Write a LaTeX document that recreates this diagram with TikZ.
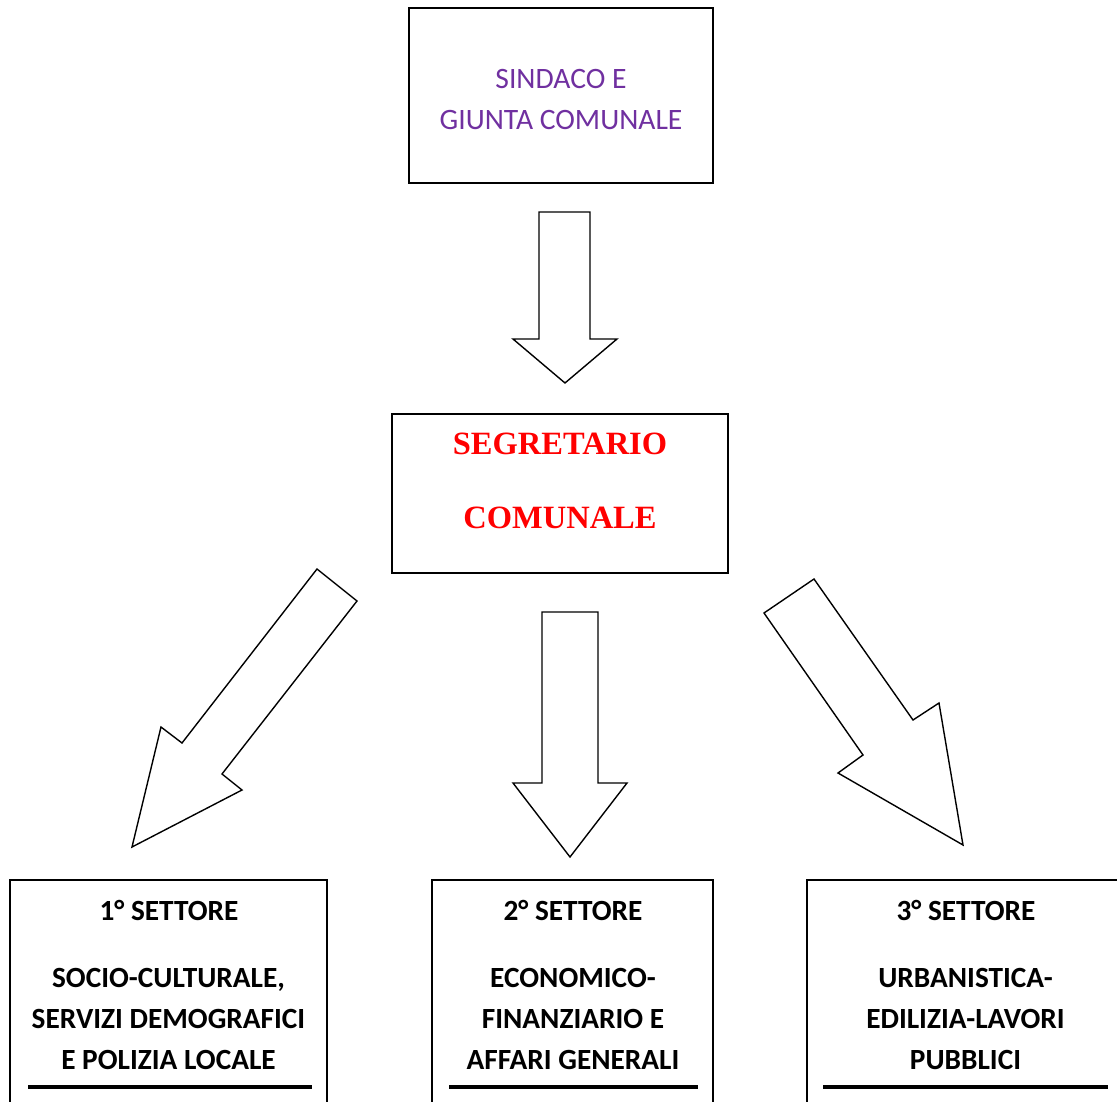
\documentclass[tikz,border=0pt]{standalone}
\usepackage{fontspec}
\setmainfont{Carlito}
\newfontfamily\timesfont{Liberation Serif}
\definecolor{viola}{RGB}{112,48,160}
\definecolor{rosso}{RGB}{255,0,0}
\tikzset{
	box/.style={draw, line width=1.8pt, inner sep=0pt},
	freccia/.style={draw, line width=1.4pt, line join=miter},
	settore/.style={font=\bfseries\fontsize{29.3}{41}\selectfont, align=center, inner sep=0pt},
}
\begin{document}
\begin{tikzpicture}[x=1pt,y=-1pt]
	\clip (0,0) rectangle (1117,1102);
	% sindaco e giunta
	\node[box, minimum width=304pt, minimum height=175pt] (sindaco) at (561,95.5) {};
	\node[text=viola, align=center, inner sep=0pt, font=\fontsize{29.6}{41}\selectfont] (tsindaco) at (561,99.5) {SINDACO E\\GIUNTA COMUNALE};
	\draw[freccia] (539,212) -- (590,212) -- (590,339) -- (617,339) -- (565,383) -- (513,339) -- (539,339) -- cycle;
	% segretario
	\node[box, minimum width=336pt, minimum height=159pt] (segretario) at (560,493.5) {};
	\node[text=rosso, align=center, inner sep=0pt, font=\timesfont\bfseries\fontsize{32.5}{74}\selectfont] (tsegretario) at (560,481) {SEGRETARIO\\COMUNALE};
	% frecce verso i settori
	\draw[freccia] (317,569) -- (357,601) -- (222,774) -- (242,790) -- (132,847) -- (161,727) -- (182,743) -- cycle;
	\draw[freccia] (542,612) -- (598,612) -- (598,783) -- (627,783) -- (570,857) -- (513,783) -- (542,783) -- cycle;
	\draw[freccia] (764,613) -- (814,579) -- (913,720) -- (939,703) -- (963,845) -- (838,773) -- (863,755) -- cycle;
	% settori
	\node[box, minimum width=317pt, minimum height=250pt] (s1) at (168.5,1005) {};
	\node[box, minimum width=281pt, minimum height=250pt] (s2) at (572.5,1005) {};
	\node[box, minimum width=333pt, minimum height=250pt] (s3) at (973.5,1005) {};
	\node[settore] (t1) at (169,910) {1° SETTORE};
	\node[settore] (t2) at (573,910) {2° SETTORE};
	\node[settore] (t3) at (966,910) {3° SETTORE};
	\node[settore] (d1) at (168.5,1019) {SOCIO-CULTURALE,\\SERVIZI DEMOGRAFICI\\E POLIZIA LOCALE};
	\node[settore] (d2) at (573,1019) {ECONOMICO-\\FINANZIARIO E\\AFFARI GENERALI};
	\node[settore] (d3) at (965.5,1019) {URBANISTICA-\\EDILIZIA-LAVORI\\PUBBLICI};
	\draw[line width=4pt] (28,1087) -- (312,1087);
	\draw[line width=4pt] (449,1087) -- (698,1087);
	\draw[line width=4pt] (823,1087) -- (1108,1087);
\end{tikzpicture}
\end{document}
